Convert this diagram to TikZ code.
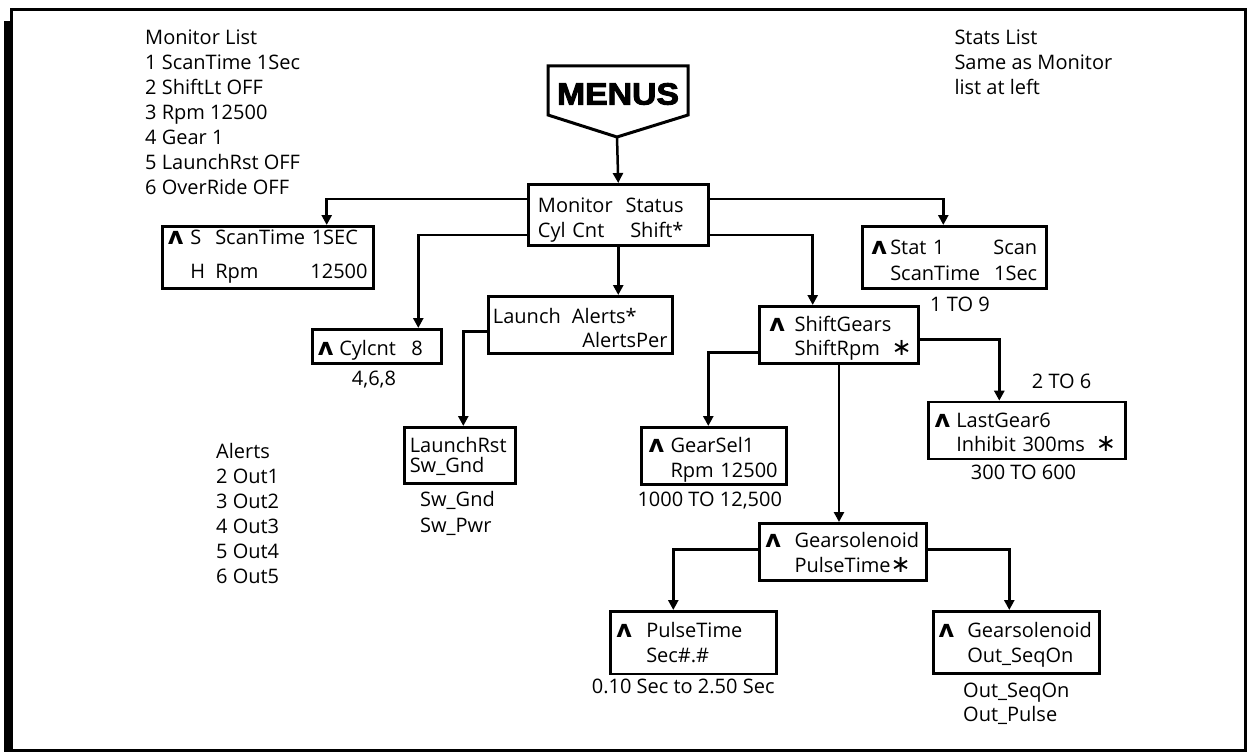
\documentclass[tikz,border=0pt]{standalone}
\usepackage{fontspec}
\setmainfont{Open Sans}
\newfontfamily\symf{DejaVu Sans}
\newfontfamily\menusfont{Liberation Sans Bold}[FakeStretch=1.1,FakeBold=3]
\usetikzlibrary{arrows.meta}
\newcommand\topstr[1]{\rule{0pt}{#1pt}}
\newcommand\botstr[1]{\rule[-#1pt]{0pt}{#1pt}}
\newcommand\crt{{\symf\bfseries\fontsize{24}{24}\selectfont ʌ}}
\newcommand\strr{{\symf\fontsize{24}{24}\selectfont ∗}}
\tikzset{
  box/.style={draw, line width=2.5pt, inner ysep=0pt, align=left, anchor=north west},
  lbl/.style={inner sep=0pt, align=left, font=\fontsize{20}{25}\selectfont},
  arr/.style={line width=2.5pt, -{Triangle[width=10pt,length=10pt]}},
}
\begin{document}
\begin{tikzpicture}[x=1pt,y=-1pt]
\useasboundingbox (0,0) rectangle (1248,752);
% frame
\draw[line width=3pt] (11.3,10) rectangle (1245.5,750.7);
\fill (4,21) rectangle (12.7,752);
% MENUS
\draw[line width=3pt, line join=miter] (548,66) -- (688,66) -- (688,115) -- (617,137) -- (548,115) -- cycle;
\coordinate (menustip) at (617,137);
\node[inner sep=0pt, font=\menusfont\fontsize{30.7}{30.7}\selectfont] (menus) at (618,94) {MENUS};
% boxes
\node[box, inner xsep=9.7pt, text width=160.6pt, font=\fontsize{20}{25}\selectfont] (mon) at (527,183)
  {\topstr{28.7}\makebox[87.6pt][l]{Monitor}Status\\\makebox[92.3pt][l]{Cyl Cnt}Shift*\botstr{7.3}};
\node[box, inner xsep=5.7pt, text width=199.6pt, font=\fontsize{20}{33.7}\selectfont] (scan) at (161,225)
  {\topstr{18.3}\makebox[22.3pt][l]{\crt}\makebox[25pt][l]{S}ScanTime 1SEC\\\hspace*{22.3pt}\makebox[25pt][l]{H}Rpm\hfill 12500\botstr{10.3}};
\node[box, inner xsep=9pt, text width=166pt, font=\fontsize{20}{26}\selectfont] (stat) at (861,225)
  {\topstr{28.3}\makebox[19pt][l]{\crt}Stat 1\hfill Scan\\\hspace*{19pt}ScanTime\hfill 1Sec\botstr{8}};
\node[box, inner xsep=5.7pt, text width=117.6pt, font=\fontsize{20}{25}\selectfont] (cyl) at (311,328)
  {\topstr{26}\makebox[21.3pt][l]{\crt}\makebox[72pt][l]{Cylcnt}8\botstr{8}};
\node[box, inner xsep=4.7pt, text width=174.6pt, font=\fontsize{20}{24.4}\selectfont] (launch) at (487,295)
  {\topstr{27.3}\makebox[79pt][l]{Launch}Alerts*\\\mbox{}\hfill AlertsPer\botstr{5.3}};
\node[box, inner xsep=5.5pt, text width=100pt, font=\fontsize{20}{20}\selectfont] (lrst) at (403,426)
  {\topstr{25.7}LaunchRst\\Sw\_Gnd\botstr{10.3}};
\node[box, inner xsep=10pt, text width=139pt, font=\fontsize{20}{23.3}\selectfont] (shift) at (758,305)
  {\topstr{25.7}\makebox[25.3pt][l]{\crt}ShiftGears\\\hspace*{25.3pt}\makebox[97pt][l]{ShiftRpm}\strr\botstr{8}};
\node[box, inner xsep=7.3pt, text width=130.4pt, font=\fontsize{20}{25}\selectfont] (gear) at (640,426)
  {\topstr{25.7}\makebox[22pt][l]{\crt}GearSel1\\\hspace*{22pt}Rpm 12500\botstr{6.6}};
\node[box, inner xsep=6.3pt, text width=184.4pt, font=\fontsize{20}{24}\selectfont] (last) at (927,400.7)
  {\topstr{25.3}\makebox[21.7pt][l]{\crt}LastGear6\\\hspace*{21.7pt}Inhibit 300ms\hfill\strr\hspace*{3pt}\botstr{7.7}};
\node[box, inner xsep=6pt, text width=155pt, font=\fontsize{20}{25}\selectfont] (gsol) at (758,522)
  {\topstr{24.7}\makebox[29.3pt][l]{\crt}Gearsolenoid\\\hspace*{29.3pt}PulseTime\strr\botstr{7.3}};
\node[box, inner xsep=6pt, text width=154pt, font=\fontsize{20}{25.7}\selectfont] (pulse) at (609,610)
  {\topstr{26}\makebox[30pt][l]{\crt}PulseTime\\\hspace*{30pt}Sec\#.\#\botstr{11}};
\node[box, inner xsep=5.3pt, text width=155.4pt, font=\fontsize{20}{25.7}\selectfont] (gsol2) at (932,610)
  {\topstr{26}\makebox[28.7pt][l]{\crt}Gearsolenoid\\\hspace*{28.7pt}Out\_SeqOn\botstr{10.3}};
% free labels
\node[lbl, anchor=north west] (monlist) at (145,24.3)
  {\topstr{20}Monitor List\\1 ScanTime 1Sec\\2 ShiftLt OFF\\3 Rpm 12500\\4 Gear 1\\5 LaunchRst OFF\\6 OverRide OFF};
\node[lbl, anchor=north west] (statlist) at (954.3,24)
  {\topstr{20}Stats List\\Same as Monitor\\list at left};
\node[lbl, anchor=north west] (alerts) at (216,438.3)
  {\topstr{20}Alerts\\2 Out1\\3 Out2\\4 Out3\\5 Out4\\6 Out5};
\node[lbl, anchor=base] (cylr) at (374,385) {4,6,8};
\node[lbl, anchor=north west, font=\fontsize{20}{26}\selectfont] (lrstr) at (420,486.7) {\topstr{20}Sw\_Gnd\\Sw\_Pwr};
\node[lbl, anchor=base west] (statr) at (930,311.7) {1 TO 9};
\node[lbl, anchor=base west] (lastr1) at (1031.7,388.3) {2 TO 6};
\node[lbl, anchor=base west] (lastr2) at (970.7,479.3) {300 TO 600};
\node[lbl, anchor=base west] (gearr) at (637.3,506) {1000 TO 12,500};
\node[lbl, anchor=base west] (pulser) at (591.7,693.3) {0.10 Sec to 2.50 Sec};
\node[lbl, anchor=north west, font=\fontsize{20}{24.4}\selectfont] (gsol2r) at (963,677.3) {\topstr{20}Out\_SeqOn\\Out\_Pulse};
% connectors
\draw[arr] (menustip) -- (mon.north);
\draw[arr] (mon.west |- 0,199) -| (326.7,0 |- scan.north);
\draw[arr] (mon.west |- 0,235) -| (418.3,0 |- cyl.north);
\draw[arr] (mon.south) -- (mon.south |- launch.north);
\draw[arr] (mon.east |- 0,199) -| (943.3,0 |- stat.north);
\draw[arr] (mon.east |- 0,235) -| (812.7,0 |- shift.north);
\draw[arr] (launch.west |- 0,331.7) -| (463.3,0 |- lrst.north);
\draw[arr] (shift.east |- 0,339.3) -| (999.3,0 |- last.north);
\draw[arr] (shift.west |- 0,352.7) -| (708.3,0 |- gear.north);
\draw[arr] (839,0 |- shift.south) -- (839,0 |- gsol.north);
\draw[arr] (gsol.west |- 0,549.3) -| (673.3,0 |- pulse.north);
\draw[arr] (gsol.east |- 0,549.3) -| (1009.3,0 |- gsol2.north);
\end{tikzpicture}
\end{document}
